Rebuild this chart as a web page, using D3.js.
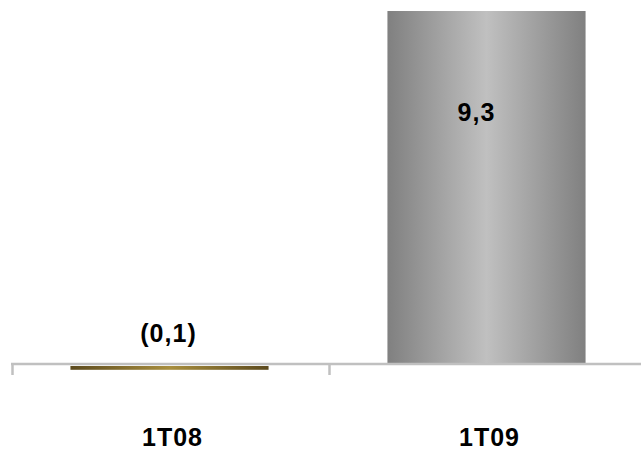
<!DOCTYPE html>
<html><head><meta charset="utf-8">
<script src="https://cdn.jsdelivr.net/npm/d3@7"></script>
<style>body{margin:0;background:#fff}svg{display:block}</style>
</head><body>
<svg id="c" width="641" height="451"></svg>
<script>
const categories = ["1T08", "1T09"];
const values = [-0.1, 9.3];
const labels = ["(0,1)", "9,3"];

const svg = d3.select("#c");
const defs = svg.append("defs");
function grad(id, edge, mid) {
  const g = defs.append("linearGradient").attr("id", id).attr("x1", "0").attr("x2", "1").attr("y1", "0").attr("y2", "0");
  g.append("stop").attr("offset", "0%").attr("stop-color", edge);
  g.append("stop").attr("offset", "50%").attr("stop-color", mid);
  g.append("stop").attr("offset", "100%").attr("stop-color", edge);
}
grad("gGold", "#5c4a1e", "#a88e3e");
grad("gGray", "#808080", "#c0c0c0");
const fills = ["url(#gGold)", "url(#gGray)"];

const x = d3.scaleBand().domain(categories).range([11, 645]).paddingInner(0.375).paddingOuter(0.1875);
const y = d3.scaleLinear().domain([0, 9.3]).range([364, 11]);

// bars
svg.selectAll("rect.bar").data(values).enter().append("rect")
  .attr("class", "bar")
  .attr("x", (d, i) => x(categories[i]))
  .attr("width", x.bandwidth())
  .attr("y", d => d >= 0 ? y(d) : y(0) + 2)
  .attr("height", d => d >= 0 ? y(0) - y(d) : Math.max(2, y(d) - y(0)))
  .attr("fill", (d, i) => fills[i]);

// axis line
svg.append("line").attr("x1", 11).attr("x2", 641).attr("y1", 364).attr("y2", 364)
  .attr("stroke", "#c0c0c0").attr("stroke-width", 2.5);
// ticks at band boundaries
const tickXs = categories.map(c => x(c) - x.step() * x.paddingOuter() + 0.5);
svg.selectAll("line.tick").data(tickXs).enter().append("line")
  .attr("class", "tick")
  .attr("x1", d => d + 1).attr("x2", d => d + 1)
  .attr("y1", 363).attr("y2", 375)
  .attr("stroke", "#c0c0c0").attr("stroke-width", 2.5);

// value labels
svg.selectAll("text.val").data(values).enter().append("text")
  .attr("class", "val")
  .attr("x", (d, i) => x(categories[i]) + x.bandwidth() / 2 + (d >= 0 ? -10 : -1))
  .attr("y", (d, i) => d >= 0 ? 121 : 342)
  .attr("text-anchor", "middle")
  .attr("font-family", "Liberation Sans, Arial, sans-serif")
  .attr("font-weight", "bold")
  .attr("font-size", 25)
  .attr("letter-spacing", 1)
  .attr("fill", "#000")
  .text((d, i) => labels[i]);

// category labels
svg.selectAll("text.cat").data(categories).enter().append("text")
  .attr("class", "cat")
  .attr("x", d => x(d) + x.bandwidth() / 2 + 3)
  .attr("y", 446)
  .attr("text-anchor", "middle")
  .attr("font-family", "Liberation Sans, Arial, sans-serif")
  .attr("font-weight", "bold")
  .attr("font-size", 25)
  .attr("letter-spacing", 1)
  .attr("fill", "#000")
  .text(d => d);
</script>
</body></html>
